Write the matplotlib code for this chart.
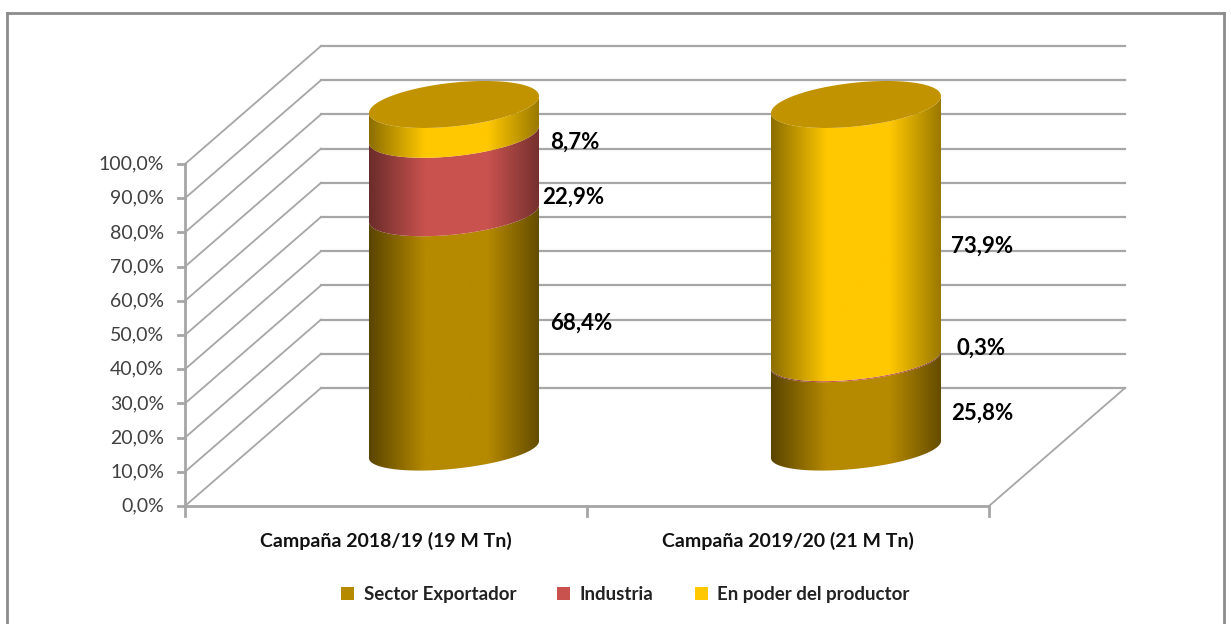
# Stacked 3D-look cylinders: destination of the harvest by campaign
import numpy as np
import matplotlib
matplotlib.use("Agg")
import matplotlib.pyplot as plt
from matplotlib.patches import Patch, PathPatch, Polygon
from matplotlib.path import Path

plt.rcParams['font.family'] = ['Lato', 'DejaVu Sans']

# Data
campaigns = ['Campaña 2018/19 (19 M Tn)', 'Campaña 2019/20 (21 M Tn)']
series_names = ['Sector Exportador', 'Industria', 'En poder del productor']
exportador = [68.4, 25.8]
industria = [22.9, 0.3]
productor = [8.7, 73.9]
value_ticks = [0, 10, 20, 30, 40, 50, 60, 70, 80, 90, 100]
colors = ['#B58900', '#C9524F', '#FFC800']
edge_colors = ['#5A4500', '#6A2C2A', '#8C6E00']
top_color = '#C29300'

W, H = 1231, 624
GRID = '#A6A6A6'

# Scale: one category = 402 px, one percent = 3.42 px
cat_px, pct_px = 402.0, 3.42
depth_x, depth_y = 136 / cat_px, 118 / pct_px

fig = plt.figure(figsize=(W / 100, H / 100), dpi=100)
ax = fig.add_axes([0, 0, 1, 1])
xlim = (-185 / cat_px, (W - 185) / cat_px)
ylim = ((506 - H) / pct_px, 506 / pct_px)
ax.axis('off')

# Walls and floor
for v in value_ticks:
    ax.plot([0, depth_x], [v, v + depth_y], color=GRID, lw=1.3)
    ax.plot([depth_x, 2 + depth_x], [v + depth_y, v + depth_y], color=GRID, lw=1.6)
    ax.plot([-7 / cat_px, 0], [v, v], color=GRID, lw=2)
ax.plot([0, 2], [0, 0], color=GRID, lw=2)
ax.plot([2, 2 + depth_x], [0, depth_y], color=GRID, lw=1.3)
ax.plot([0, 0], [0, 100], color=GRID, lw=2)
for c in range(3):
    ax.plot([c, c], [0, -10 / pct_px], color=GRID, lw=2)


# Cylinder geometry
half_w = 85 / cat_px
base = 16.5       # height of the cylinder axis at 0%, because it sits mid depth
stretch = 1.009
tilt = 8.5 / pct_px


def ellipse(cx, value, t):
    y0 = base + value * stretch
    extent = (21 + 2.5 * value / 100) / pct_px
    v = np.sqrt(extent ** 2 - tilt ** 2)
    return cx + half_w * np.cos(t), y0 + tilt * np.cos(t) + v * np.sin(t)


def draw_segment(cx, low, high, color, edge):
    t = np.linspace(np.pi, 2 * np.pi, 80)
    x1, y1 = ellipse(cx, high, t)
    x0, y0 = ellipse(cx, low, t[::-1])
    verts = np.column_stack([np.r_[x1, x0], np.r_[y1, y0]])
    patch = Polygon(verts, closed=True, fc='none', ec='none', transform=ax.transData)
    ax.add_patch(patch)
    # horizontal shading, darker towards both sides
    pos = np.linspace(0, 1, 256)
    mix = np.interp(pos, [0, 0.33, 0.7, 1], [0, 1, 1, 0.12])
    c0 = np.array(matplotlib.colors.to_rgb(edge))
    c1 = np.array(matplotlib.colors.to_rgb(color))
    img = (c0[None, :] * (1 - mix[:, None]) + c1[None, :] * mix[:, None])[None, :, :]
    im = ax.imshow(img, extent=[cx - half_w, cx + half_w, y0.min() - 10, y1.max() + 10],
                   aspect='auto', interpolation='bilinear', zorder=3)
    im.set_clip_path(patch)


for i, cx in enumerate([0.5 + depth_x / 2, 1.5 + depth_x / 2]):
    bottom = 0
    for vals, col, edge in zip([exportador, industria, productor], colors, edge_colors):
        draw_segment(cx, bottom, bottom + vals[i], col, edge)
        bottom += vals[i]
    t = np.linspace(0, 2 * np.pi, 160)
    ex, ey = ellipse(cx, bottom, t)
    ax.fill(ex, ey, color=top_color, lw=0, zorder=4)

ax.set_xlim(*xlim)
ax.set_ylim(*ylim)

# Value labels, placed to the right of each cylinder
label_font = dict(fontsize=16, fontweight='bold', color='black', ha='left', va='center', zorder=6)
ax.text(2 * half_w + 0.87 - 0.5 + 0.0, 99.5, '', **label_font)
label_pos = [[(0.908, 53.5), (0.889, 90.2), (0.908, 106.5)],
             [(1.906, 27.0), (1.918, 46.0), (1.906, 76.0)]]
label_text = [[exportador, industria, productor]]
for i in range(2):
    for j, vals in enumerate([exportador, industria, productor]):
        x, y = label_pos[i][j]
        ax.text(x, y, f'{vals[i]:.1f}%'.replace('.', ','), **label_font)

# Axis labels
for v in value_ticks:
    ax.text(-21 / cat_px, v, f'{v:.1f}%'.replace('.', ','), fontsize=14, color='#404040',
            ha='right', va='center')
for c, name in enumerate(campaigns):
    ax.text(c + 0.5, -10.3, name, fontsize=14, fontweight='bold', color='#111111',
            ha='center', va='center')

# Legend
handles = [Patch(fc=c, ec='none') for c in colors]
ax.legend(handles, series_names, ncol=3, loc='center', bbox_to_anchor=(0.508, 0.0465),
          bbox_transform=fig.transFigure, frameon=False, fontsize=13.5,
          prop=dict(size=13.5, weight='bold'), handlelength=0.7, handleheight=0.7,
          handletextpad=0.5, columnspacing=2.2, labelcolor='#222222')

# Outer frame of the chart
fig.add_artist(plt.Line2D([7 / W, 7 / W], [0, 1 - 13 / H], color='#8C8C8C', lw=2))
fig.add_artist(plt.Line2D([7 / W, 1224 / W], [1 - 13 / H, 1 - 13 / H], color='#8C8C8C', lw=2))
fig.add_artist(plt.Line2D([1224 / W, 1224 / W], [0, 1 - 13 / H], color='#8C8C8C', lw=2))

fig.savefig('out.png', dpi=100)
